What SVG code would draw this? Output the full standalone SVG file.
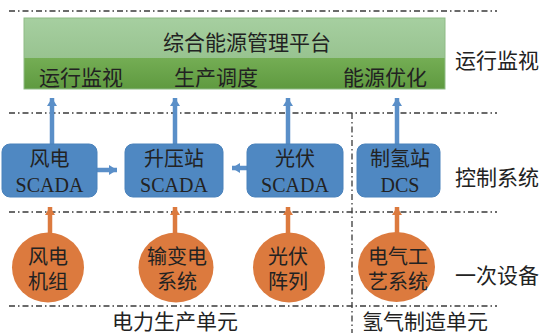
<svg xmlns="http://www.w3.org/2000/svg" width="542" height="333" viewBox="0 0 542 333">
<defs>
<linearGradient id="gTop" x1="0" y1="0" x2="0" y2="1">
<stop offset="0" stop-color="#a6cfa0"/>
<stop offset="1" stop-color="#98c390"/>
</linearGradient>
<linearGradient id="gBot" x1="0" y1="0" x2="0" y2="1">
<stop offset="0" stop-color="#74ad54"/>
<stop offset="1" stop-color="#5f9a40"/>
</linearGradient>
<marker id="ab" markerUnits="userSpaceOnUse" markerWidth="12" markerHeight="12" refX="8" refY="5" orient="auto">
<path d="M0,0 L8,5 L0,10 Z" fill="#5a8fc8"/>
</marker>
<marker id="ao" markerUnits="userSpaceOnUse" markerWidth="12" markerHeight="12" refX="8" refY="5" orient="auto">
<path d="M0,0 L8,5 L0,10 Z" fill="#dc7a3e"/>
</marker>
</defs>
<style>
.sep{stroke:#3a3a3a;stroke-width:1.3;stroke-dasharray:6 3 1.5 3;fill:none}
.bx{fill:#4f88c2;stroke:#4a82bb;stroke-width:1}
.ci{fill:#dc7a3e}
.t{font-family:"Liberation Serif","Noto Sans CJK SC",serif;fill:#222}
.c20{font-size:20px;text-anchor:middle}
.c21{font-size:21px;text-anchor:middle}
.r21{font-size:21px;text-anchor:start}
.lb{stroke:#5a8fc8;stroke-width:4.5;fill:none}
.lo{stroke:#dc7a3e;stroke-width:4.5;fill:none}
</style>

<g id="separators">
<line class="sep" x1="9" y1="11" x2="497" y2="11"/>
<line class="sep" x1="9" y1="113" x2="497" y2="113"/>
<line class="sep" x1="9" y1="212" x2="497" y2="212"/>
<line class="sep" x1="9" y1="306" x2="497" y2="306"/>
<line class="sep" x1="352" y1="113" x2="352" y2="333"/>
</g>

<g id="platform">
<rect x="24" y="18" width="421" height="40" fill="url(#gTop)"/>
<rect x="24" y="58" width="421" height="31" fill="url(#gBot)"/>
<rect x="24" y="18" width="421" height="71" fill="none" stroke="#8fbb86" stroke-width="1"/>
<text class="t c21" x="247" y="50">综合能源管理平台</text>
<text class="t c21" x="81" y="85">运行监视</text>
<text class="t c21" x="216" y="85">生产调度</text>
<text class="t c21" x="385" y="85">能源优化</text>
</g>

<g id="connectors">
<line class="lb" x1="52" y1="144" x2="52" y2="98" marker-end="url(#ab)"/>
<line class="lb" x1="175" y1="144" x2="175" y2="98" marker-end="url(#ab)"/>
<line class="lb" x1="288" y1="144" x2="288" y2="98" marker-end="url(#ab)"/>
<line class="lb" x1="397" y1="144" x2="397" y2="98" marker-end="url(#ab)"/>
<line class="lb" x1="97" y1="170" x2="117" y2="170" marker-end="url(#ab)"/>
<line class="lb" x1="247" y1="168" x2="232" y2="168" marker-end="url(#ab)"/>
<line class="lo" x1="50" y1="233" x2="50" y2="207" marker-end="url(#ao)"/>
<line class="lo" x1="175" y1="233" x2="175" y2="207" marker-end="url(#ao)"/>
<line class="lo" x1="288" y1="233" x2="288" y2="207" marker-end="url(#ao)"/>
<line class="lo" x1="397" y1="233" x2="397" y2="207" marker-end="url(#ao)"/>
</g>

<g id="wind-scada">
<rect class="bx" x="2" y="144" width="95" height="53" rx="8"/>
<text class="t c20" x="49.5" y="165.5">风电</text>
<text class="t c20" x="49.5" y="192">SCADA</text>
</g>
<g id="booster-scada">
<rect class="bx" x="125" y="144" width="98" height="53" rx="8"/>
<text class="t c20" x="174" y="165.5">升压站</text>
<text class="t c20" x="174" y="192">SCADA</text>
</g>
<g id="pv-scada">
<rect class="bx" x="247" y="144" width="96" height="53" rx="8"/>
<text class="t c20" x="295" y="165.5">光伏</text>
<text class="t c20" x="295" y="192">SCADA</text>
</g>
<g id="h2-dcs">
<rect class="bx" x="357" y="144" width="83" height="53" rx="8"/>
<text class="t c20" x="400" y="165.5">制氢站</text>
<text class="t c20" x="400" y="192">DCS</text>
</g>

<g id="wind-unit">
<ellipse class="ci" cx="48" cy="267.5" rx="36" ry="35"/>
<text class="t c20" x="48" y="263.5">风电</text>
<text class="t c20" x="48" y="288.5">机组</text>
</g>
<g id="transmission">
<ellipse class="ci" cx="176" cy="267.5" rx="37.5" ry="35"/>
<text class="t c20" x="177" y="263.5">输变电</text>
<text class="t c20" x="177" y="288.5">系统</text>
</g>
<g id="pv-array">
<ellipse class="ci" cx="289" cy="267.5" rx="36" ry="35"/>
<text class="t c20" x="288" y="263.5">光伏</text>
<text class="t c20" x="288" y="288.5">阵列</text>
</g>
<g id="electrical-process">
<ellipse class="ci" cx="396.5" cy="267" rx="38.5" ry="35"/>
<text class="t c20" x="398" y="263.5">电气工</text>
<text class="t c20" x="398" y="288.5">艺系统</text>
</g>

<g id="labels">
<text class="t r21" x="455" y="68">运行监视</text>
<text class="t r21" x="455" y="185">控制系统</text>
<text class="t r21" x="455" y="283">一次设备</text>
<text class="t c21" x="175" y="329">电力生产单元</text>
<text class="t c21" x="425" y="329">氢气制造单元</text>
</g>
</svg>
